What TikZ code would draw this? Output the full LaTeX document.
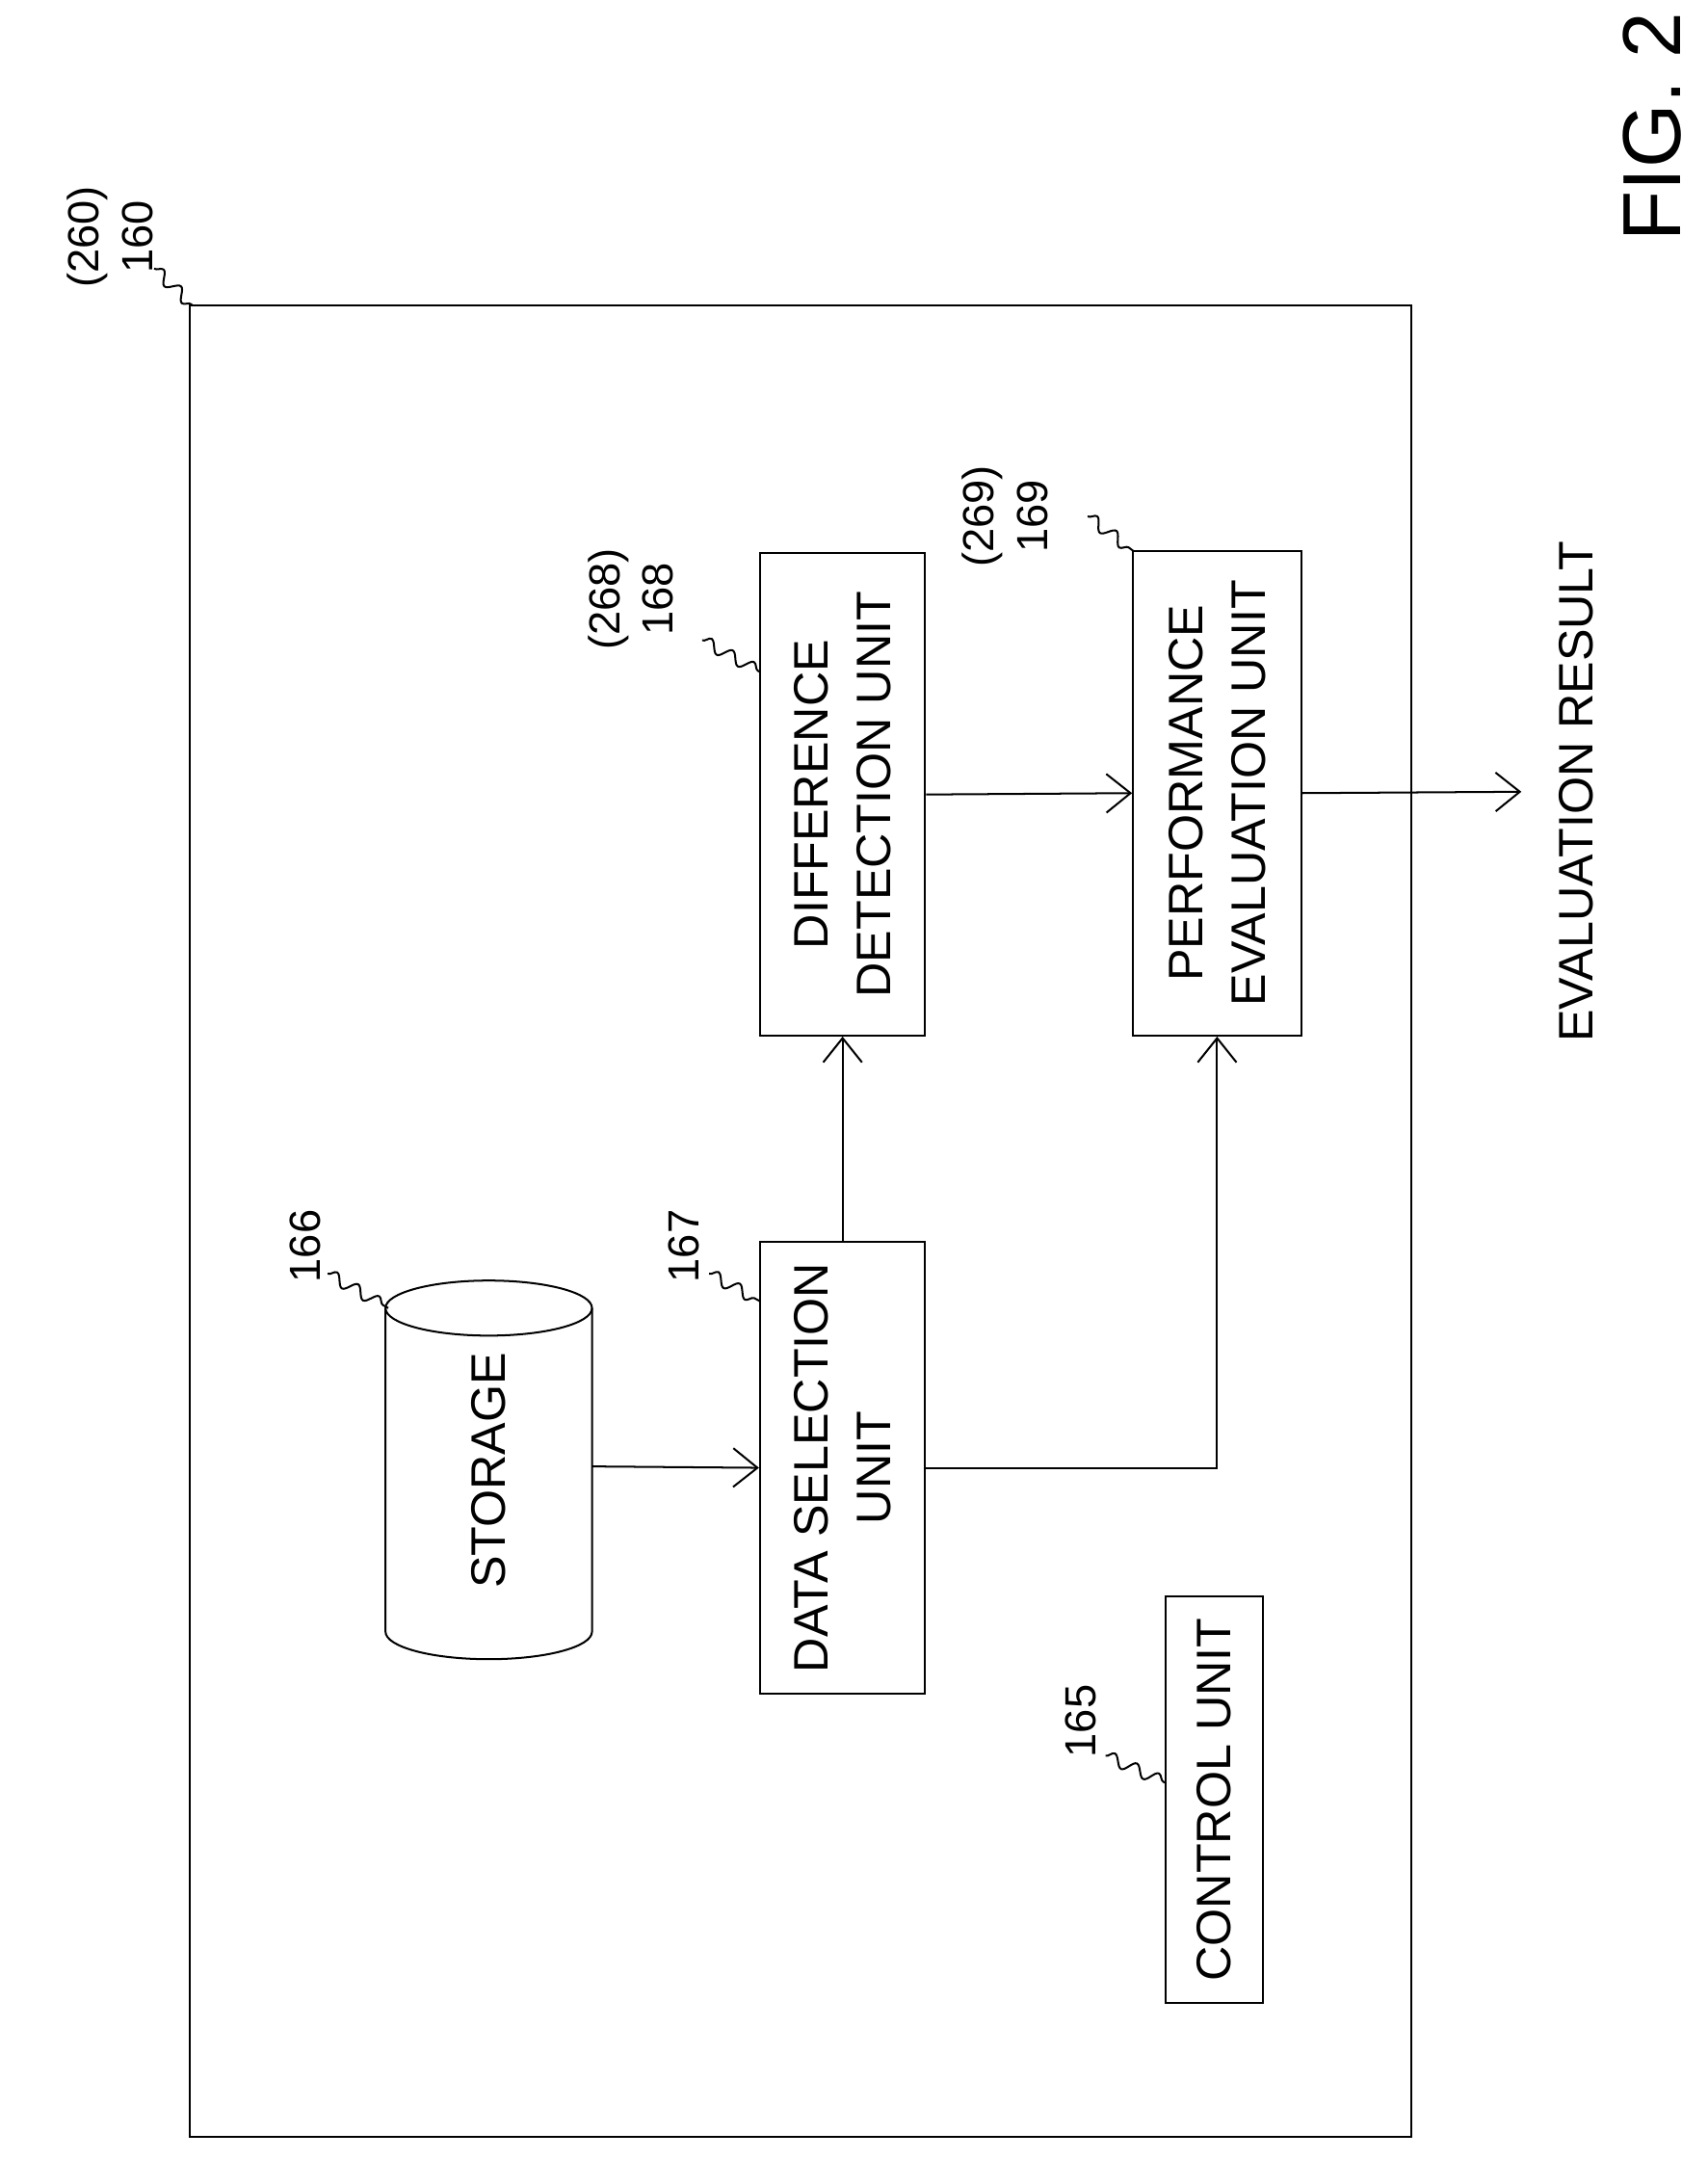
\documentclass[tikz,border=0pt]{standalone}
\usepackage{fontspec}
\setmainfont{Liberation Sans}
\usetikzlibrary{arrows.meta,decorations.pathmorphing}
\tikzset{
  unit/.style={draw,rotate=90,align=center,inner sep=0pt,font=\fontsize{10}{13}\selectfont},
  lbl/.style={rotate=90,align=center,inner sep=1pt,font=\fontsize{9}{11}\selectfont},
  squig/.style={decorate,decoration={snake,amplitude=1.2pt,segment length=5pt}}
}
\begin{document}
\begin{tikzpicture}[x=0.01cm,y=-0.01cm,>={Straight Barb[length=5pt,width=8pt]},thin]
\useasboundingbox (0,0) rectangle (1240,1568);
\draw (138,222) rectangle (1025,1552);
% storage cylinder
\draw (355,950) ellipse [x radius=75, y radius=20];
\draw (280,950) -- (280,1185) arc[start angle=180,end angle=0,x radius=75,y radius=20] -- (430,950);
\node[lbl,font=\fontsize{10}{13}\selectfont] (st) at (355,1068) {STORAGE};
\coordinate (stR) at (430,1065);
% units
\node[unit,minimum width=3.28cm,minimum height=1.2cm] (dsu) at (612,1066) {DATA SELECTION\\UNIT};
\node[unit,minimum width=3.5cm,minimum height=1.2cm] (ddu) at (612,577) {DIFFERENCE\\DETECTION UNIT};
\node[unit,minimum width=3.52cm,minimum height=1.22cm] (peu) at (884,576) {PERFORMANCE\\EVALUATION UNIT};
\node[unit,minimum width=2.95cm,minimum height=0.71cm] (cu) at (882,1307) {CONTROL UNIT};
\node[lbl,font=\fontsize{10}{13}\selectfont] (res) at (1145,575) {EVALUATION RESULT};
\coordinate (out) at (1105,575);
% connectors
\draw[->] (stR) -- (dsu.north);
\draw[->] (dsu.east) -- (ddu.west);
\draw[->] (dsu.south) -| (peu.west);
\draw[->] (ddu.south) -- (peu.north);
\draw[->] (peu.south) -- (out);
% reference numerals
\node[lbl] (n160) at (80,172) {(260)\\160};
\node[lbl] (n166) at (222,905) {166};
\node[lbl] (n167) at (497,905) {167};
\node[lbl] (n168) at (458,435) {(268)\\168};
\node[lbl] (n169) at (730,375) {(269)\\169};
\node[lbl] (n165) at (785,1250) {165};
\draw[squig] (112,195) -- (140,222);
\draw[squig] (238,925) -- (282,950);
\draw[squig] (515,925) -- (552,945);
\draw[squig] (510,465) -- (552,488);
\draw[squig] (790,375) -- (823,400);
\draw[squig] (803,1275) -- (847,1295);
\node[rotate=90,font=\fontsize{17}{20}\selectfont] (fig) at (1200,92) {FIG. 2};
\end{tikzpicture}
\end{document}
